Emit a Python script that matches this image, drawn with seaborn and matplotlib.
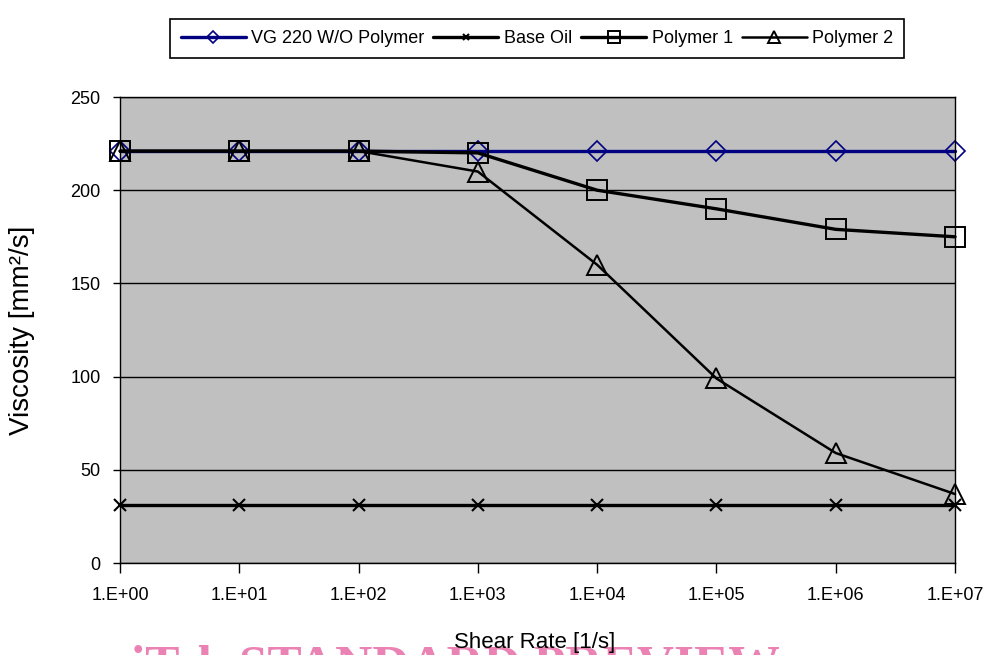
import matplotlib
matplotlib.use('Agg')
import matplotlib.pyplot as plt
import seaborn as sns

# Chart data
shear_rate = [1e0, 1e1, 1e2, 1e3, 1e4, 1e5, 1e6, 1e7]
x_labels = ["1.E+00", "1.E+01", "1.E+02", "1.E+03", "1.E+04", "1.E+05", "1.E+06", "1.E+07"]
vg220 = [221, 221, 221, 221, 221, 221, 221, 221]
base_oil = [31, 31, 31, 31, 31, 31, 31, 31]
polymer1 = [221, 221, 221, 220, 200, 190, 179, 175]
polymer2 = [221, 221, 221, 210, 160, 99, 59, 37]
y_ticks = [0, 50, 100, 150, 200, 250]

sns.set_theme(style="ticks")
plt.rcParams['font.family'] = ['Liberation Sans', 'DejaVu Sans']
plt.rcParams['text.color'] = "black"
plt.rcParams['axes.labelcolor'] = "black"
plt.rcParams['xtick.color'] = "black"
plt.rcParams['ytick.color'] = "black"

fig = plt.figure(figsize=(9.94, 6.55), dpi=100)
ax = fig.add_axes([120 / 994, 1 - 563 / 655, 835 / 994, 466 / 655])
ax.set_facecolor("#c0c0c0")

# Series (VG 220 first so the black lines sit on top of it)
sns.lineplot(x=shear_rate, y=vg220, ax=ax, color="#000080", linewidth=2.4,
             marker="D", markersize=10, markerfacecolor="none",
             markeredgecolor="#000080", markeredgewidth=1.2,
             label="VG 220 W/O Polymer", clip_on=False)
sns.lineplot(x=shear_rate, y=base_oil, ax=ax, color="black", linewidth=2.4,
             marker="x", markersize=8, markeredgewidth=1.5,
             markeredgecolor="black", label="Base Oil", clip_on=False)
sns.lineplot(x=shear_rate, y=polymer1, ax=ax, color="black", linewidth=2.4,
             marker="s", markersize=14, markerfacecolor="none",
             markeredgecolor="black", markeredgewidth=1.4,
             label="Polymer 1", clip_on=False)
sns.lineplot(x=shear_rate, y=polymer2, ax=ax, color="black", linewidth=1.8,
             marker="^", markersize=15, markerfacecolor="none",
             markeredgecolor="black", markeredgewidth=1.4,
             label="Polymer 2", clip_on=False)

handles, labels = ax.get_legend_handles_labels()
if ax.get_legend() is not None:
    ax.get_legend().remove()

# Axes
ax.set_xscale("log")
ax.set_xlim(shear_rate[0], shear_rate[-1])
ax.set_xticks(shear_rate)
ax.set_xticklabels(x_labels)
ax.minorticks_off()
ax.set_ylim(0, 250)
ax.set_yticks(y_ticks)

ax.yaxis.grid(True, color="black", linewidth=1)
ax.xaxis.grid(False)
ax.set_axisbelow(True)
for side in ["left", "bottom", "top", "right"]:
    ax.spines[side].set_color("black")
    ax.spines[side].set_linewidth(1)

ax.tick_params(axis="x", direction="out", length=7, width=1, color="black",
               labelsize=13, pad=10)
ax.tick_params(axis="y", direction="out", length=5, width=1, color="black",
               labelsize=13, pad=9)

ax.set_xlabel("Shear Rate [1/s]", fontsize=16)
ax.xaxis.set_label_coords(0.497, -0.148)
ax.set_ylabel("Viscosity [mm²/s]", fontsize=20)
ax.yaxis.set_label_coords(-0.102, 0.5)

leg = fig.legend(handles, labels, loc="upper center",
                 bbox_to_anchor=(537 / 994, 1 - 10 / 655), ncol=4,
                 fontsize=13, frameon=True, fancybox=False, framealpha=1,
                 edgecolor="black", handlelength=3.6, handletextpad=0.3,
                 columnspacing=0.5, borderpad=0.6, markerscale=0.6)
leg.get_frame().set_linewidth(1.2)

# Watermark along the bottom edge
fig.text(131 / 994, 1 - 645 / 655, "iTeh STANDARD PREVIEW", ha="left", va="top",
         fontsize=37, fontweight="bold", family=["Liberation Serif", "DejaVu Serif"],
         color="#eb82b4", zorder=-1)

fig.savefig("out.png", dpi=100)
plt.close(fig)
